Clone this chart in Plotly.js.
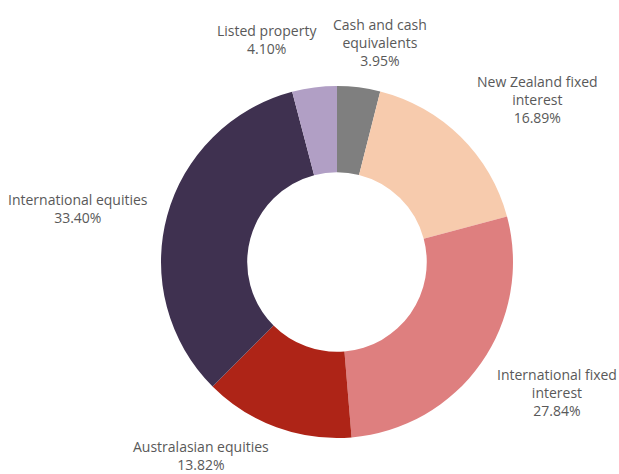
<!DOCTYPE html>
<html>
<head>
<meta charset="utf-8">
<script src="https://cdn.plot.ly/plotly-3.0.1.min.js"></script>
<style>html,body{margin:0;padding:0;background:#fff;}#chart{width:619px;height:474px;}</style>
</head>
<body>
<div id="chart"></div>
<script>
const categories = ["Cash and cash equivalents", "New Zealand fixed interest", "International fixed interest", "Australasian equities", "International equities", "Listed property"];
const labelText = ["Cash and cash<br>equivalents", "New Zealand fixed<br>interest", "International fixed<br>interest", "Australasian equities", "International equities", "Listed property"];
const values = [3.95, 16.89, 27.84, 13.82, 33.40, 4.10];
const colors = ["#7f7f7f", "#f7cbad", "#de7f7f", "#ae2417", "#3f3150", "#b19fc5"];
// label centre positions in pixels (layout only)
const labelPx = [[380, 42], [537, 99], [557, 392], [201, 455], [78, 208], [267, 40]];

const W = 619, H = 474;
const annotations = categories.map((c, i) => ({
  x: labelPx[i][0] / W, y: 1 - labelPx[i][1] / H,
  xref: "paper", yref: "paper", xanchor: "center", yanchor: "middle",
  showarrow: false, align: "center",
  text: labelText[i] + "<br>" + values[i].toFixed(2) + "%",
  font: {family: "Open Sans, sans-serif", size: 14, color: "#595959"}
}));

const trace = {
  type: "pie", labels: categories, values: values, sort: false,
  direction: "clockwise", rotation: 0, hole: 0.51,
  marker: {colors: colors, line: {width: 0}},
  textinfo: "none", hoverinfo: "label+percent",
  domain: {x: [161 / W, 513 / W], y: [1 - 438 / H, 1 - 86 / H]}
};

Plotly.newPlot("chart", [trace], {
  width: W, height: H, margin: {l: 0, r: 0, t: 0, b: 0},
  showlegend: false, paper_bgcolor: "#fff", annotations: annotations
}, {displayModeBar: false, staticPlot: true});
</script>
</body>
</html>
